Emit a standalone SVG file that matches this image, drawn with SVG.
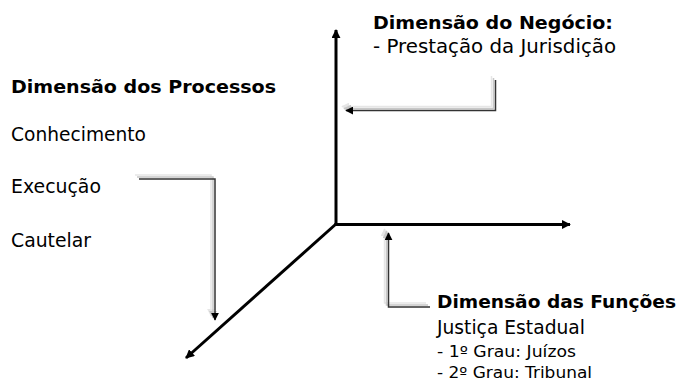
<svg xmlns="http://www.w3.org/2000/svg" width="683" height="385" viewBox="0 0 683 385">
  <defs>
    <marker id="axisArrow" viewBox="0 0 10 10" refX="9" refY="5" markerWidth="3" markerHeight="3" markerUnits="strokeWidth" orient="auto">
      <path d="M0,0 L10,5 L0,10 Z" fill="#000"/>
    </marker>
    <marker id="arrDark" viewBox="0 0 10 10" refX="9" refY="5" markerWidth="8" markerHeight="8" markerUnits="userSpaceOnUse" orient="auto">
      <path d="M0,0 L10,5 L0,10 Z" fill="#000"/>
    </marker>
    <marker id="arrMid" viewBox="0 0 10 10" refX="9" refY="5" markerWidth="8" markerHeight="8" markerUnits="userSpaceOnUse" orient="auto">
      <path d="M0,0 L10,5 L0,10 Z" fill="#c8c8c8"/>
    </marker>
    <marker id="arrLight" viewBox="0 0 10 10" refX="9" refY="5" markerWidth="8" markerHeight="8" markerUnits="userSpaceOnUse" orient="auto">
      <path d="M0,0 L10,5 L0,10 Z" fill="#e6e6e6"/>
    </marker>
  </defs>
  <style>
    .axis { fill: none; stroke: #000; stroke-width: 3; }
    .conn { fill: none; stroke: #333; stroke-width: 1.5; marker-end: url(#arrDark); }
    .sh1 { fill: none; stroke: #c8c8c8; stroke-width: 1.5; marker-end: url(#arrMid); }
    .sh2 { fill: none; stroke: #e6e6e6; stroke-width: 1.5; marker-end: url(#arrLight); }
    text { font-family: "DejaVu Sans", "Liberation Sans", sans-serif; fill: #000; }
    .h { font-size: 18.5px; font-weight: bold; }
    .t { font-size: 19px; }
    .s { font-size: 15.5px; }
  </style>
  <rect width="683" height="385" fill="#fff"/>

  <g id="axes">
    <line class="axis" x1="336" y1="225" x2="336" y2="30" marker-end="url(#axisArrow)"/>
    <line class="axis" x1="334.5" y1="224.5" x2="570" y2="224.5" marker-end="url(#axisArrow)"/>
    <line class="axis" x1="336" y1="224" x2="186" y2="358" marker-end="url(#axisArrow)"/>
  </g>

  <g id="connectors">
    <polyline class="sh2" points="491.5,76 491.5,106.5 342,106.5"/>
    <polyline class="sh1" points="493.5,78 493.5,108.5 344,108.5"/>
    <polyline class="conn" points="495.5,80 495.5,110.5 346,110.5"/>

    <polyline class="sh2" points="135,175 211,175 211,316"/>
    <polyline class="sh1" points="137,177 213,177 213,318"/>
    <polyline class="conn" points="139,179 215,179 215,320"/>

    <polyline class="sh2" points="426,303 384.5,303 384.5,229"/>
    <polyline class="sh1" points="428,305 386.5,305 386.5,231"/>
    <polyline class="conn" points="430,307 388.5,307 388.5,233"/>
  </g>

  <g id="negocio">
    <text class="h" x="373" y="29" textLength="240" lengthAdjust="spacingAndGlyphs">Dimensão do Negócio:</text>
    <text class="t" x="373" y="53" textLength="243" lengthAdjust="spacingAndGlyphs">- Prestação da Jurisdição</text>
  </g>

  <g id="processos">
    <text class="h" x="11" y="93" textLength="265" lengthAdjust="spacingAndGlyphs">Dimensão dos Processos</text>
    <text class="t" x="11" y="141" textLength="135" lengthAdjust="spacingAndGlyphs">Conhecimento</text>
    <text class="t" x="11" y="193" textLength="90" lengthAdjust="spacingAndGlyphs">Execução</text>
    <text class="t" x="11" y="247" textLength="80" lengthAdjust="spacingAndGlyphs">Cautelar</text>
  </g>

  <g id="funcoes">
    <text class="h" x="437" y="308" textLength="239" lengthAdjust="spacingAndGlyphs">Dimensão das Funções</text>
    <text class="t" x="437" y="334" textLength="148" lengthAdjust="spacingAndGlyphs">Justiça Estadual</text>
    <text class="s" x="437" y="357" textLength="139" lengthAdjust="spacingAndGlyphs">- 1º Grau: Juízos</text>
    <text class="s" x="437" y="378" textLength="155" lengthAdjust="spacingAndGlyphs">- 2º Grau: Tribunal</text>
  </g>
</svg>
